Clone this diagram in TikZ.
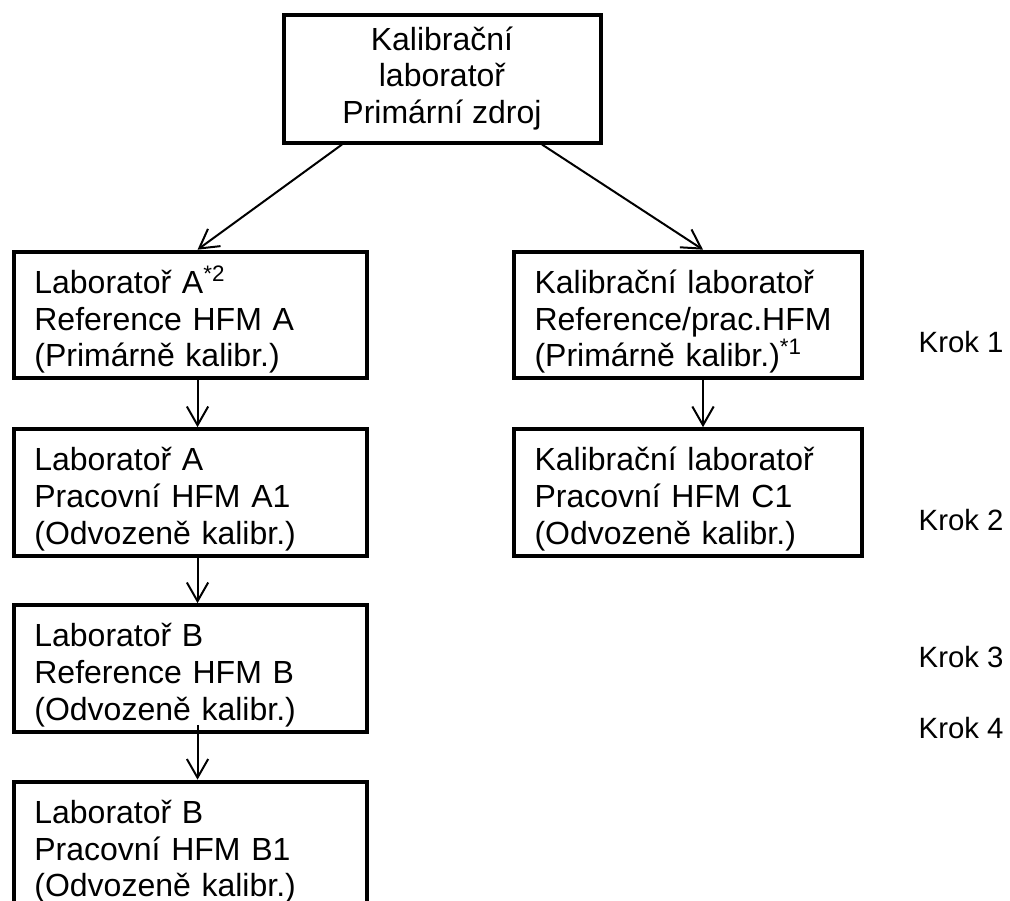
\documentclass[tikz,border=0pt]{standalone}
\usepackage{fontspec}
\setmainfont{Liberation Sans}
\usetikzlibrary{arrows.meta}

\tikzset{
  labbox/.style={draw, line width=3pt, minimum height=95pt, inner xsep=15.5pt,
    align=left, font=\fontsize{24}{27.5}\selectfont,
    execute at begin node={\rule{0pt}{27.6pt}}},
  tok/.style={line width=1.5pt, -{Straight Barb[length=14pt,width=16pt]}},
  krok/.style={anchor=base west, font=\fontsize{22}{26}\selectfont}
}

\begin{document}
\begin{tikzpicture}[x=0.75pt, y=-0.75pt]
  % velikost obrazku
  \useasboundingbox (0,0) rectangle (1010,900);
  \clip (0,0) rectangle (1010,900);

  % primarni zdroj
  \node[labbox, align=center, minimum width=237.75pt, minimum height=96pt] (zdroj) at (442,78.5)
    {Kalibrační\\laboratoř\\Primární zdroj};

  % levy sloupec
  \node[labbox, text width=233.75pt] (labA) at (190.2,315)
    {Laboratoř A\textsuperscript{*2}\\Reference HFM A\\(Primárně kalibr.)};
  \node[labbox, text width=233.75pt] (labA1) at (190.2,492.5)
    {Laboratoř A\\Pracovní HFM A1\\(Odvozeně kalibr.)};
  \node[labbox, text width=233.75pt] (labB) at (190.2,668.5)
    {Laboratoř B\\Reference HFM B\\(Odvozeně kalibr.)};
  \node[labbox, text width=233.75pt] (labB1) at (190.2,845)
    {Laboratoř B\\Pracovní HFM B1\\(Odvozeně kalibr.)};

  % pravy sloupec
  \node[labbox, text width=230.2pt] (kal) at (688,315)
    {Kalibrační laboratoř\\Reference/prac.HFM\\(Primárně kalibr.)\textsuperscript{*1}};
  \node[labbox, text width=230.2pt] (kalC1) at (688,492.5)
    {Kalibrační laboratoř\\Pracovní HFM C1\\(Odvozeně kalibr.)};

  % sipky
  \draw[tok] ([xshift=-75pt]zdroj.south) -- ([xshift=5.5pt]labA.north);
  \draw[tok] ([xshift=75pt]zdroj.south) -- ([xshift=11.25pt]kal.north);
  \draw[tok] ([xshift=5.5pt]labA.south) -- ([xshift=5.5pt]labA1.north);
  \draw[tok] ([xshift=5.5pt]labA1.south) -- ([xshift=5.5pt]labB.north);
  \draw[tok] ([xshift=5.5pt,yshift=6.75pt]labB.south) -- ([xshift=5.5pt]labB1.north);
  \draw[tok] ([xshift=11.25pt]kal.south) -- ([xshift=11.25pt]kalC1.north);

  % kroky
  \node[krok] (k1) at (914,352) {Krok 1};
  \node[krok] (k2) at (914,530) {Krok 2};
  \node[krok] (k3) at (914,667) {Krok 3};
  \node[krok] (k4) at (914,738) {Krok 4};
\end{tikzpicture}
\end{document}
